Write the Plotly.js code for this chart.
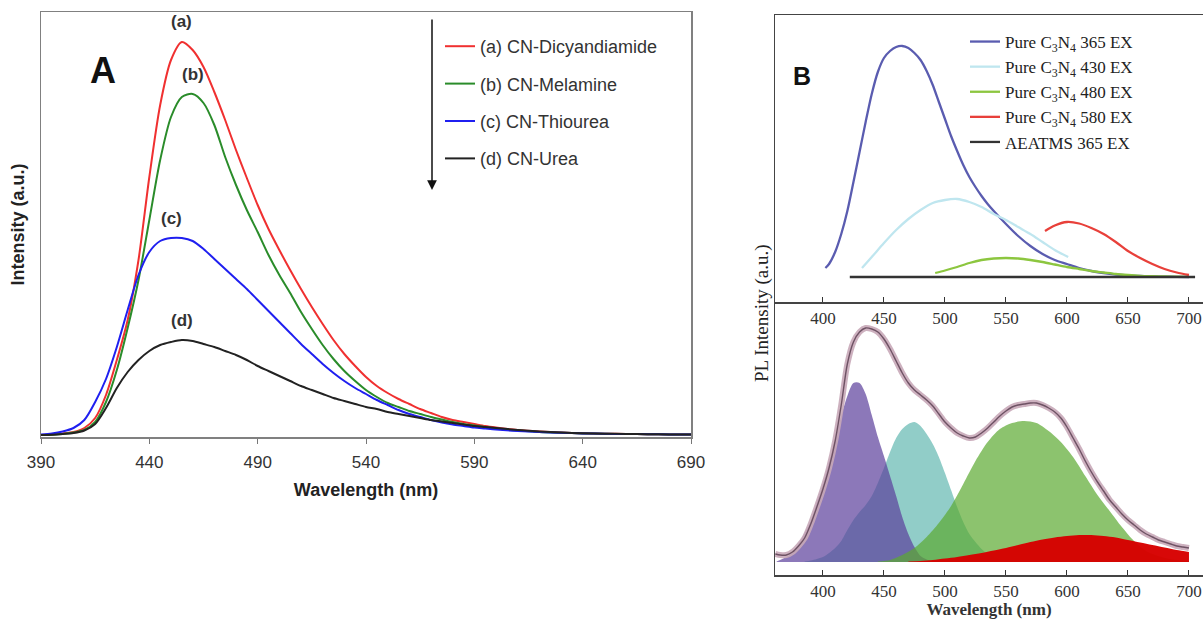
<!DOCTYPE html>
<html>
<head>
<meta charset="utf-8">
<script src="https://cdn.plot.ly/plotly-3.0.1.min.js"></script>
<style>html,body{margin:0;padding:0;background:#fff;}#chart{width:1203px;height:619px;}</style>
</head>
<body>
<div id="chart"></div>
<script>
// ---------- Panel A data (wavelength nm, intensity a.u.) ----------
const namesA = ['(a) CN-Dicyandiamide', '(b) CN-Melamine', '(c) CN-Thiourea', '(d) CN-Urea'];
const peakLabelsA = ['(a)', '(b)', '(c)', '(d)'];
const wlA = [390,395,400,405,410,415,420,425,430,435,440,445,450,455,460,465,470,475,480,485,490,495,500,505,510,515,520,525,530,535,540,545,550,555,560,565,570,575,580,585,590,595,600,610,620,630,640,650,660,670,680,690];
const intA_a = [0,0.5,1.5,3,7,17,40,75,115,175,258,330,375,393,385,368,343,315,285,257,230,206,185,165,146,128,111,95,81,69,58,49,42,36,31,26,22,18,15,13,11,9,7.5,5,3.5,2.5,1.8,1.3,1,0.8,0.6,0.5];
const intA_b = [0,0.3,1,2.5,5,13,33,65,107,155,215,275,318,338,341,332,310,278,250,225,203,180,160,142,123,106,90,76,64,54,45,38,32,28,24,21,18,15.5,13,11,9.5,8,6.5,4.5,3,2.2,1.6,1.2,1,0.8,0.6,0.5];
const intA_c = [0.5,1.5,3.5,7,15,33,56,88,125,160,183,194,197,197,194,186,176,166,156,146,135,124,113,102,91,81,71,62,54,47,41,35,30,25,21,18,15,12.5,10.5,9,7.5,6.5,5.5,4,3,2.2,1.6,1.2,1,0.8,0.6,0.5];
const intA_d = [0,0.3,1,2,4.5,11,27,47,63,75,84,90,93,95,94,91,88,84,80,75,69,64,59,54,49,45,41,37,34,31,28,26,23,21,19,17,15,13.5,12,10.5,9,8,7,5,3.5,2.5,1.8,1.3,1,0.8,0.6,0.5];
const ticksA = [390,440,490,540,590,640,690];

// ---------- Panel B (top) data ----------
const namesB = ['Pure C<sub>3</sub>N<sub>4</sub> 365 EX', 'Pure C<sub>3</sub>N<sub>4</sub> 430 EX', 'Pure C<sub>3</sub>N<sub>4</sub> 480 EX', 'Pure C<sub>3</sub>N<sub>4</sub> 580 EX', 'AEATMS 365 EX'];
const wlB_365 = [402,405,410,415,420,425,430,435,440,445,450,455,460,465,470,475,480,485,490,495,500,505,510,515,520,525,530,535,540,550,560,570,580,590,600,610,620,630,640,650,660,670,680,690,700];
const intB_365 = [9,13,25,43,66,95,125,155,183,205,219,226,230,231,229,224,217,206,192,175,158,141,126,112,100,90,81,73,66,53,41,31,23,17,13,9,6,4,2.5,1.5,1,0.5,0.3,0.2,0];
const wlB_430 = [432,440,450,460,470,480,490,500,510,520,530,540,550,560,570,580,590,601];
const intB_430 = [9,20,34,47,58,67,74,77,78,75,70,63,57,50,43,35,27,20];
const wlB_480 = [492,500,510,520,530,540,550,560,570,580,590,600,610,620,630,640,650,660,670,680,690,700];
const intB_480 = [4,6.5,10,14,17,18.5,19,18.5,17,15,12.5,10,8,6,4.5,3,2,1.2,0.8,0.5,0.3,0.2];
const wlB_580 = [582,590,600,610,620,630,640,650,660,670,680,690,700];
const intB_580 = [46,51.5,55,53.5,49,43,35,26,19,13,8,4.5,2];
const wlB_aeatms = [422,500,600,705];
const intB_aeatms = [0,0,0,0];
const ticksB = [400,450,500,550,600,650,700];

// ---------- Panel B (bottom) data: fitted components + measured envelope ----------
const wlF_env = [361,365,370,375,380,385,390,395,400,405,410,415,420,425,430,435,440,445,450,455,460,465,470,475,480,485,490,495,500,505,510,515,520,525,530,535,540,545,550,555,560,565,570,575,580,585,590,595,600,605,610,615,620,625,630,635,640,645,650,655,660,665,670,675,680,685,690,695,700];
const intF_env = [8,7,7,10,16,24,38,55,73,94,121,157,198,220,230,234,233,230,223,213,201,189,179,172,167,162,156,148,140,134,129,126,124,125,129,134,140,146,151,155,157,158,159,159,157,154,150,144,135,124,113,101,90,80,71,62,55,48,42,37,32,28,25,22,20,18,16,15,14];
const wlF_p = [362,370,375,380,385,390,395,400,405,410,415,420,425,430,435,440,445,450,455,460,465,470,475,480,485,490,500];
const intF_p = [0.5,5,10,18,29,41,60,78,100,122,146,166,179,179,168,147,125,106,86,66,45,28,15,6,2.5,1,0];
const wlF_t = [385,390,395,400,405,410,415,420,425,430,435,440,445,450,455,460,465,470,475,480,485,490,495,500,505,510,515,520,525,530,535,540,550,560];
const intF_t = [0.5,1.5,3,5,9,14,21,32,42,50,57,66,79,94,110,124,133,138,140,136,128,118,105,89,72,55,40,28,20,13,8,5,2,0.5];
const wlF_g = [445,455,465,475,485,495,505,515,525,535,545,555,565,575,585,595,605,615,625,635,645,655,665,675,685,695,700];
const intF_g = [0.5,2,7,14,25,39,56,78,101,120,133,139,141,139,131,120,105,86,67,51,35,21,11,6,3,1.5,1];
const wlF_r = [470,480,490,500,510,520,530,540,550,560,570,580,590,600,610,620,630,640,650,660,670,680,690,700];
const intF_r = [0.5,1,2,3.5,5,7,9,11.5,14,17,20,22.5,24.5,26,27,27,26,24.5,22,19.5,17,14.5,12,10];

// ---------- layout helpers ----------
const W = 1203, H = 619;
const px = x => x / W;
const py = y => 1 - y / H;
const sans = 'Liberation Sans, Arial, sans-serif';
const serif = 'Liberation Serif, Times New Roman, serif';
const SPL = {shape: 'spline', smoothing: 0.8};

const colorsA = ['#f03030', '#2a8c2a', '#1f1ff0', '#222222'];
const seriesA = [intA_a, intA_b, intA_c, intA_d];
const traces = [];
seriesA.forEach((ys, i) => {
  traces.push({
    x: wlA, y: ys, type: 'scatter', mode: 'lines', name: namesA[i],
    line: Object.assign({color: colorsA[i], width: 2}, SPL),
    xaxis: 'x', yaxis: 'y', legend: 'legend', legendgroup: 'g' + i
  });
});

const colorsB = ['#5a5cb0', '#bfe6ef', '#8cc63f', '#e8403a', '#333333'];
const dataB = [[wlB_365, intB_365], [wlB_430, intB_430], [wlB_480, intB_480], [wlB_580, intB_580], [wlB_aeatms, intB_aeatms]];
dataB.forEach((d, i) => {
  traces.push({
    x: d[0], y: d[1], type: 'scatter', mode: 'lines', name: namesB[i],
    line: Object.assign({color: colorsB[i], width: 2.3}, SPL),
    xaxis: 'x2', yaxis: 'y2', legend: 'legend2'
  });
});

const fills = [
  [wlF_t, intF_t, 'rgba(98,184,176,0.7)'],
  [wlF_p, intF_p, 'rgba(91,62,155,0.7)'],
  [wlF_g, intF_g, 'rgba(91,169,48,0.7)'],
  [wlF_r, intF_r, 'rgba(215,0,0,0.97)']
];
fills.forEach(f => {
  traces.push({
    x: f[0], y: f[1], type: 'scatter', mode: 'lines', fill: 'tozeroy',
    fillcolor: f[2], line: Object.assign({width: 0}, SPL),
    xaxis: 'x3', yaxis: 'y3', showlegend: false, hoverinfo: 'skip'
  });
});
traces.push({
  x: wlF_env, y: intF_env, type: 'scatter', mode: 'lines',
  line: Object.assign({color: 'rgba(200,168,184,0.9)', width: 6}, SPL),
  xaxis: 'x3', yaxis: 'y3', showlegend: false
});
traces.push({
  x: wlF_env, y: intF_env, type: 'scatter', mode: 'lines',
  line: Object.assign({color: '#6e5264', width: 1.4}, SPL),
  xaxis: 'x3', yaxis: 'y3', showlegend: false
});

const annotations = [
  {text: '<b>A</b>', x: px(88), y: py(48), xref: 'paper', yref: 'paper', showarrow: false,
   font: {family: sans, size: 36, color: '#111'}},
  {text: '<b>B</b>', x: px(813), y: py(60), xref: 'paper', yref: 'paper', showarrow: false,
   font: {family: sans, size: 25, color: '#111'}},
  {text: '', x: px(432), y: py(190), xref: 'paper', yref: 'paper', showarrow: true,
   ax: 0, ay: -172, axref: 'pixel', ayref: 'pixel', arrowhead: 2, arrowsize: 1.3, arrowwidth: 1.5, arrowcolor: '#111'},
  {text: 'PL Intensity (a.u.)', x: px(762), y: py(313), xref: 'paper', yref: 'paper', showarrow: false,
   textangle: -90, font: {family: serif, size: 19, color: '#222'}}
];
seriesA.forEach((ys, i) => {
  const m = Math.max(...ys);
  const k = ys.indexOf(m);
  annotations.push({text: '<b>' + peakLabelsA[i] + '</b>', x: wlA[k], y: m, xref: 'x', yref: 'y',
    showarrow: false, yshift: 20, font: {family: sans, size: 17, color: '#333'}});
});

const layout = {
  width: W, height: H,
  margin: {l: 0, r: 0, t: 0, b: 0},
  paper_bgcolor: '#fff', plot_bgcolor: 'rgba(0,0,0,0)',
  showlegend: true,
  xaxis: {domain: [px(41), px(691)], range: [390, 690], tickvals: ticksA, ticks: 'outside', ticklen: 5,
    tickcolor: '#777', showline: true, mirror: true, linecolor: '#808080', linewidth: 1.5, showgrid: false, zeroline: false,
    tickfont: {family: sans, size: 17, color: '#333'}, ticklabelstandoff: 4,
    title: {text: '<b>Wavelength (nm)</b>', font: {family: sans, size: 18, color: '#222'}, standoff: 12}},
  yaxis: {domain: [py(437), py(12)], range: [-2, 423], showticklabels: false, ticks: '', showline: true, mirror: true,
    linecolor: '#808080', linewidth: 1.5, showgrid: false, zeroline: false,
    title: {text: '<b>Intensity (a.u.)</b>', font: {family: sans, size: 18, color: '#222'}, standoff: 10}},
  xaxis2: {domain: [px(775), 1], range: [360.7, 711.5], tickvals: ticksB, ticks: 'inside', ticklen: 5, tickcolor: '#333',
    showline: true, mirror: true, linecolor: '#444', linewidth: 1.5, showgrid: false, zeroline: false,
    tickfont: {family: serif, size: 17, color: '#333'}, anchor: 'y2'},
  yaxis2: {domain: [py(302), py(15)], range: [-25, 262], showticklabels: false, ticks: '', showline: true,
    linecolor: '#444', linewidth: 1.5, showgrid: false, zeroline: false, anchor: 'x2'},
  xaxis3: {domain: [px(775), 1], range: [360.7, 711.5], tickvals: ticksB, ticks: 'inside', ticklen: 5, tickcolor: '#333',
    showline: true, linecolor: '#444', linewidth: 1.5, showgrid: false, zeroline: false,
    tickfont: {family: serif, size: 17, color: '#333'}, anchor: 'y3',
    title: {text: '<b>Wavelength (nm)</b>', font: {family: serif, size: 17, color: '#333'}, standoff: 3}},
  yaxis3: {domain: [py(575), py(302)], range: [-13, 260], showticklabels: false, ticks: '', showline: true,
    linecolor: '#444', linewidth: 1.5, showgrid: false, zeroline: false, anchor: 'x3'},
  legend: {x: px(440), y: py(28), xanchor: 'left', yanchor: 'top', bgcolor: 'rgba(0,0,0,0)',
    font: {family: sans, size: 18, color: '#333'}, tracegroupgap: 11, traceorder: 'grouped', itemwidth: 30},
  legend2: {x: px(965), y: py(24), xanchor: 'left', yanchor: 'top', bgcolor: 'rgba(0,0,0,0)',
    font: {family: serif, size: 17, color: '#222'}, tracegroupgap: 0, itemwidth: 30},
  annotations: annotations
};

Plotly.newPlot('chart', traces, layout, {displayModeBar: false, staticPlot: true});
</script>
</body>
</html>
